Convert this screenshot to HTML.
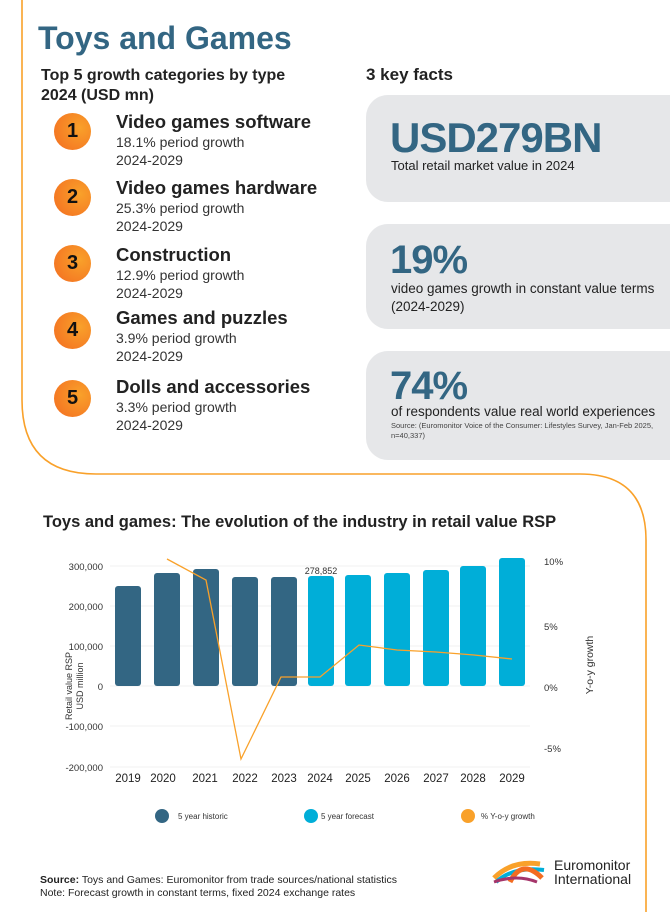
<!DOCTYPE html>
<html><head><meta charset="utf-8"><style>
body{margin:0;width:670px;height:912px;position:relative;background:#fff;font-family:"Liberation Sans",sans-serif;color:#222;overflow:hidden}
.a{position:absolute}
.box{position:absolute;left:366px;width:304px;background:#e6e7e9;border-radius:22px 0 0 22px}
.big{color:#336683;font-weight:bold;letter-spacing:-1px}
.circ{position:absolute;left:54px;width:37px;height:37px;border-radius:50%;background:radial-gradient(circle at 70% 40%,#f9a12a,#f36c21);font-weight:bold;font-size:20px;text-align:center;line-height:37px;color:#111}
.ct{position:absolute;left:116px}
.ct b{font-size:18.5px;display:block;line-height:22px}
.ct span{font-size:14px;line-height:18px;display:block;color:#333}
</style></head><body>
<svg class="a" style="left:0;top:0" width="670" height="912">
<path d="M22 0 V400 Q22 474 96 474 H580 Q646 474 646 540 V912" fill="none" stroke="#f9a12a" stroke-width="1.6"/>
</svg>
<div class="a" style="left:38px;top:20px;font-size:32px;font-weight:bold;color:#336683">Toys and Games</div>
<div class="a" style="left:41px;top:66px;font-size:16px;font-weight:bold;line-height:20px">Top 5 growth categories by type<br>2024 (USD mn)</div>
<div class="a" style="left:366px;top:65px;font-size:17px;font-weight:bold">3 key facts</div>

<div class="circ" style="top:113px">1</div>
<div class="ct" style="top:111px"><b>Video games software</b><span>18.1% period growth</span><span>2024-2029</span></div>
<div class="circ" style="top:179px">2</div>
<div class="ct" style="top:177px"><b>Video games hardware</b><span>25.3% period growth</span><span>2024-2029</span></div>
<div class="circ" style="top:245px">3</div>
<div class="ct" style="top:244px"><b>Construction</b><span>12.9% period growth</span><span>2024-2029</span></div>
<div class="circ" style="top:312px">4</div>
<div class="ct" style="top:307px"><b>Games and puzzles</b><span>3.9% period growth</span><span>2024-2029</span></div>
<div class="circ" style="top:380px">5</div>
<div class="ct" style="top:376px"><b>Dolls and accessories</b><span>3.3% period growth</span><span>2024-2029</span></div>

<div class="box" style="top:95px;height:107px"></div>
<div class="a big" style="left:390px;top:114px;font-size:42px">USD279BN</div>
<div class="a" style="left:391px;top:158px;font-size:13px">Total retail market value in 2024</div>
<div class="box" style="top:224px;height:105px"></div>
<div class="a big" style="left:390px;top:238px;font-size:40px">19%</div>
<div class="a" style="left:391px;top:280px;font-size:13.5px;line-height:18px">video games growth in constant value terms<br>(2024-2029)</div>
<div class="box" style="top:351px;height:109px"></div>
<div class="a big" style="left:390px;top:364px;font-size:40px">74%</div>
<div class="a" style="left:391px;top:404px;font-size:13.5px">of respondents value real world experiences</div>
<div class="a" style="left:391px;top:421px;font-size:7.5px;line-height:10px;color:#444">Source: (Euromonitor Voice of the Consumer: Lifestyles Survey, Jan-Feb 2025,<br>n=40,337)</div>

<div class="a" style="left:43px;top:513px;font-size:16.5px;font-weight:bold">Toys and games: The evolution of the industry in retail value RSP</div>

<svg class="a" style="left:0;top:540px" width="670" height="300" font-family="Liberation Sans" font-size="9.5" fill="#333">
<g transform="translate(0,-540)">
<g stroke="#f0f0f0"><line x1="110" x2="530" y1="566" y2="566"/><line x1="110" x2="530" y1="606" y2="606"/><line x1="110" x2="530" y1="646" y2="646"/><line x1="110" x2="530" y1="686" y2="686"/><line x1="110" x2="530" y1="726" y2="726"/><line x1="110" x2="530" y1="767" y2="767"/></g>
<g text-anchor="end"><text x="103" y="570">300,000</text><text x="103" y="610">200,000</text><text x="103" y="650">100,000</text><text x="103" y="690">0</text><text x="103" y="730">-100,000</text><text x="103" y="771">-200,000</text></g>
<g><text x="544" y="565">10%</text><text x="544" y="630">5%</text><text x="544" y="691">0%</text><text x="544" y="752">-5%</text></g>
<text transform="translate(72,686) rotate(-90)" text-anchor="middle" font-size="9">Retail value RSP</text>
<text transform="translate(83,686) rotate(-90)" text-anchor="middle" font-size="9">USD million</text>
<text transform="translate(593,665) rotate(-90)" text-anchor="middle" font-size="10.5">Y-o-y growth</text>
<g fill="#336683">
<rect x="115" y="586" width="26" height="100" rx="3"/><rect x="154" y="573" width="26" height="113" rx="3"/><rect x="193" y="569" width="26" height="117" rx="3"/><rect x="232" y="577" width="26" height="109" rx="3"/><rect x="271" y="577" width="26" height="109" rx="3"/></g>
<g fill="#00aed8">
<rect x="308" y="576" width="26" height="110" rx="3"/><rect x="345" y="575" width="26" height="111" rx="3"/><rect x="384" y="573" width="26" height="113" rx="3"/><rect x="423" y="570" width="26" height="116" rx="3"/><rect x="460" y="566" width="26" height="120" rx="3"/><rect x="499" y="558" width="26" height="128" rx="3"/></g>
<text x="321" y="574" text-anchor="middle" font-size="9">278,852</text>
<polyline fill="none" stroke="#f9a12a" stroke-width="1.3" points="167,559 206,580 241,759 281,677 320,677 359,645 397,650 436,652 474,655 512,659"/>
<g text-anchor="middle" font-size="11.5" fill="#222"><text x="128" y="782">2019</text><text x="163" y="782">2020</text><text x="205" y="782">2021</text><text x="245" y="782">2022</text><text x="284" y="782">2023</text><text x="320" y="782">2024</text><text x="358" y="782">2025</text><text x="397" y="782">2026</text><text x="436" y="782">2027</text><text x="473" y="782">2028</text><text x="512" y="782">2029</text></g>
<circle cx="162" cy="816" r="7" fill="#336683"/><text x="178" y="819" font-size="8">5 year historic</text>
<circle cx="311" cy="816" r="7" fill="#00aed8"/><text x="321" y="819" font-size="8">5 year forecast</text>
<circle cx="468" cy="816" r="7" fill="#f9a12a"/><text x="481" y="819" font-size="8">% Y-o-y growth</text>
</g></svg>

<svg class="a" style="left:492px;top:856px" width="58" height="28">
<path d="M2 22 Q20 4 48 8" stroke="#f9a12a" stroke-width="5" fill="none"/>
<path d="M4 26 Q22 10 52 14" stroke="#00aed8" stroke-width="4" fill="none"/>
<path d="M18 26 Q30 2 50 22" stroke="#f36c21" stroke-width="5" fill="none"/>
<path d="M2 26 Q25 18 45 26" stroke="#a5356a" stroke-width="3" fill="none"/>
</svg>
<div class="a" style="left:554px;top:858px;font-size:14px;line-height:14px;color:#222">Euromonitor<br>International</div>
<div class="a" style="left:40px;top:874px;font-size:10.5px;line-height:12.5px"><b>Source:</b> Toys and Games: Euromonitor from trade sources/national statistics<br>Note: Forecast growth in constant terms, fixed 2024 exchange rates</div>
</body></html>
